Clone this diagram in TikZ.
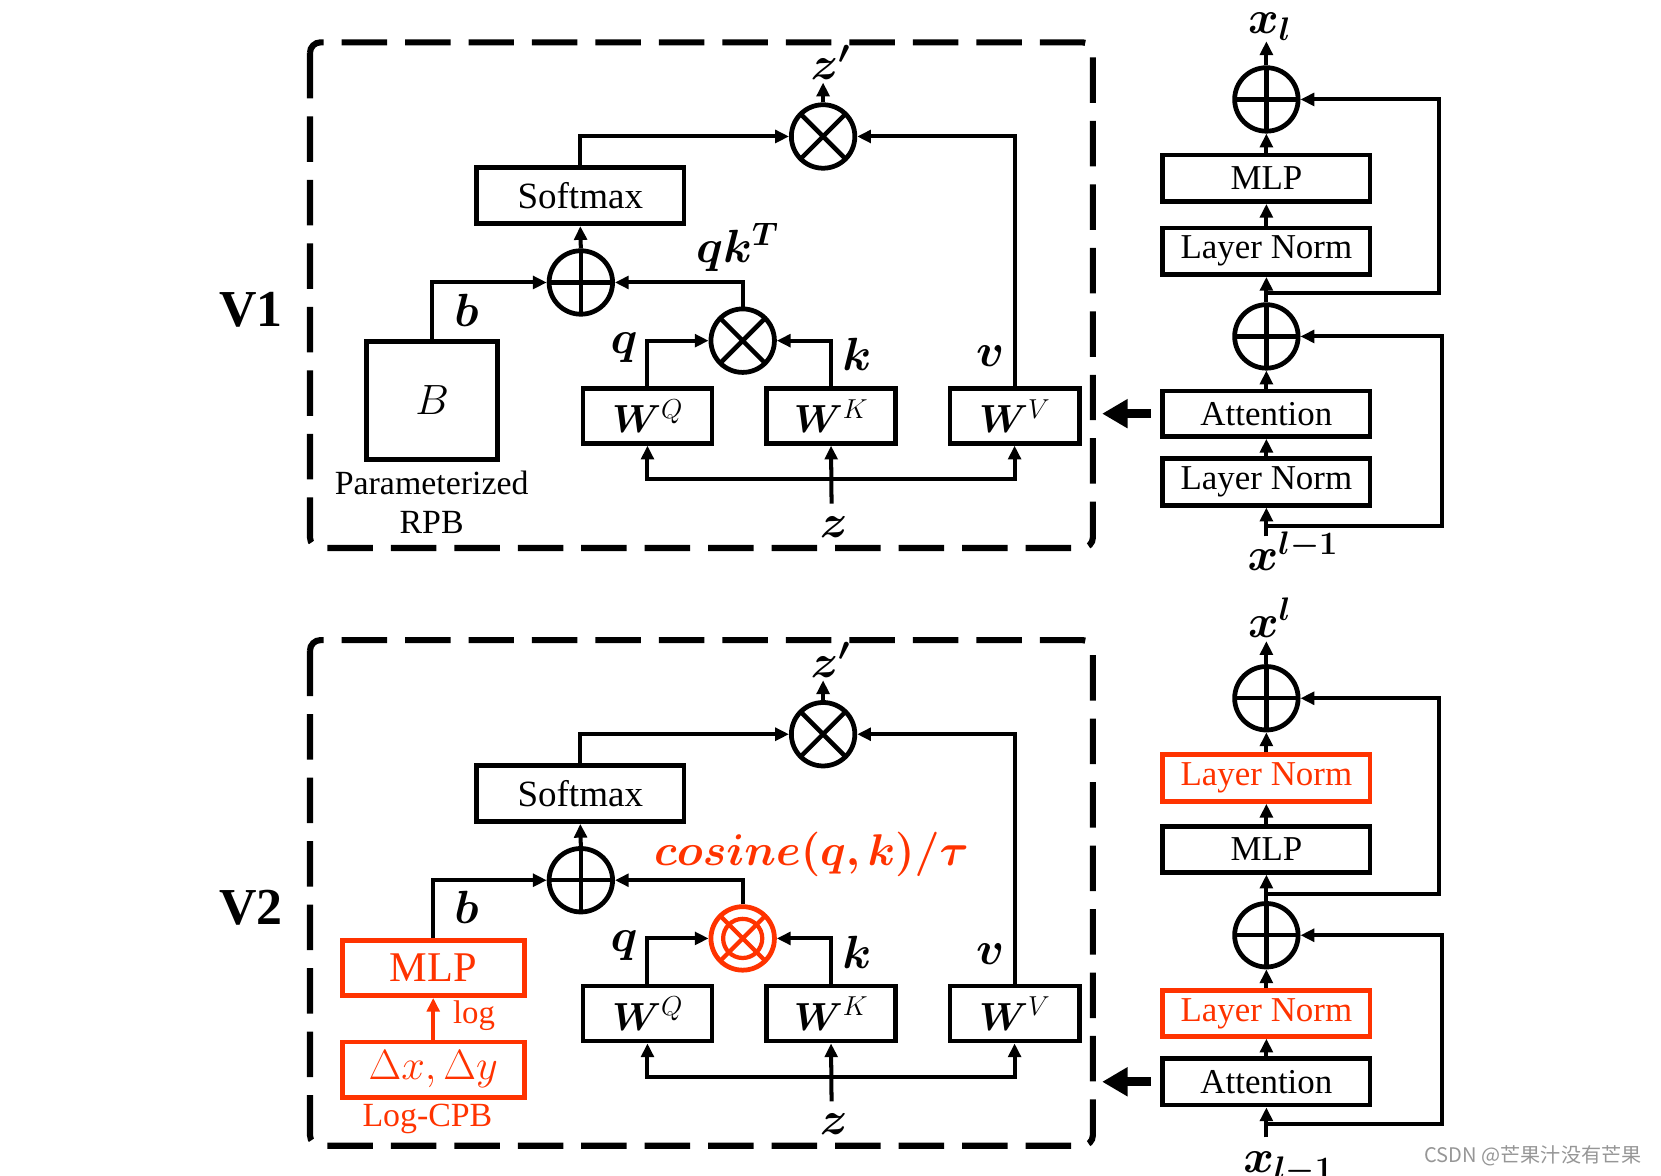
\RequirePackage{fix-cm}
\documentclass[tikz,border=0pt]{standalone}
\usepackage{amsmath,bm}
\usepackage{fontspec}
\setmainfont{Liberation Serif}
\newfontfamily\cjkfont{Noto Sans CJK SC}
\usetikzlibrary{arrows.meta,calc}
\definecolor{hl}{RGB}{255,51,0}
\definecolor{wm}{RGB}{150,150,150}

\newcommand{\attnpanel}[3]{%
\begin{scope}[yshift=#2]
\draw[dashbox] (293,40) rectangle (1033,518);
\node[box, minimum width=196pt, minimum height=53pt, font=\fontsize{35}{40}\selectfont] (soft#1) at (548.5,185) {Softmax};
\node[timesop] (mz#1) at (778,129) {};
\coordinate (zpt#1) at (778,78);
\node[lab] (zpl#1) at (785,59) {$\bm{z'}$};
\node[plusop] (add#1) at (549,267) {};
\node[#3] (mqk#1) at (702,322) {};
\node[wbox] (wq#1) at (612,393) {$\bm{W}^{Q}$};
\node[wbox] (wk#1) at (785.5,393) {$\bm{W}^{K}$};
\node[wbox] (wv#1) at (959,393) {$\bm{W}^{V}$};
\node[lab] (bl#1) at (441,293) {$\bm{b}$};
\node[lab] (ql#1) at (590,329) {$\bm{q}$};
\node[lab] (kl#1) at (810,335) {$\bm{k}$};
\node[lab] (vl#1) at (936,337) {$\bm{v}$};
\node[lab] (zl#1) at (788,498) {$\bm{z}$};
\coordinate (zin#1) at (786,476);
\coordinate (zs#1) at (786,453);
\draw[conn] (soft#1.north) |- (mz#1.west);
\draw[conn] (wv#1.north) |- (mz#1.east);
\draw[conn] (mz#1.north) -- (zpt#1);
\draw[conn] (add#1.north) -- (soft#1.south);
\draw[conn] (mqk#1.north) |- (add#1.east);
\draw[conn] (wq#1.north) |- (mqk#1.west);
\draw[conn] (wk#1.north) |- (mqk#1.east);
\draw[conn] (zin#1) -- (wk#1.south);
\draw[conn] (zs#1) -| (wq#1.south);
\draw[conn] (zs#1) -| (wv#1.south);
\end{scope}}

\begin{document}
\begin{tikzpicture}[x=1pt,y=-1pt,
 box/.style={draw, line width=4.5pt, inner sep=0pt, minimum width=196pt, font=\fontsize{33}{38}\selectfont},
 wbox/.style={draw, line width=4.5pt, inner sep=0pt, minimum width=122pt, minimum height=52pt, font=\fontsize{37}{42}\selectfont},
 redbox/.style={draw=hl, text=hl},
 opc/.style={circle, draw, line width=4.5pt, minimum size=60pt, inner sep=0pt},
 plusop/.style={opc, path picture={\draw[line width=4.2pt] (path picture bounding box.north) -- (path picture bounding box.south) (path picture bounding box.west) -- (path picture bounding box.east);}},
 timesop/.style={opc, path picture={\draw[line width=4.2pt] (path picture bounding box.north west) -- (path picture bounding box.south east) (path picture bounding box.south west) -- (path picture bounding box.north east);}},
 redtimes/.style={opc, draw=hl, path picture={\draw[hl, line width=4pt] (path picture bounding box.north west) -- (path picture bounding box.south east) (path picture bounding box.south west) -- (path picture bounding box.north east); \draw[hl, line width=4pt] (path picture bounding box.center) circle (18.5pt);}},
 conn/.style={line width=3.8pt, -{Triangle[length=13pt,width=12pt]}},
 redconn/.style={conn, draw=hl},
 lab/.style={font=\fontsize{44}{50}\selectfont, inner sep=0pt},
 txt/.style={font=\fontsize{32}{38}\selectfont, inner sep=0pt},
 bigarrow/.style={line width=8.5pt, -{Triangle[length=24pt,width=26pt]}},
 dashbox/.style={line width=5.8pt, dash pattern=on 43pt off 17pt, rounded corners=10pt},
 vlab/.style={font=\bfseries\fontsize{49}{54}\selectfont, inner sep=0pt}]
\useasboundingbox (0,0) rectangle (1570,1111);

\attnpanel{a}{0pt}{timesop}
\attnpanel{b}{-565pt}{redtimes}

% ---------- V1 specific ----------
\node[vlab] (v1) at (237,293) {V1};
\node[lab] (qkt) at (697,234) {$\bm{qk}^{\bm{T}}$};
\node[draw, line width=4.5pt, minimum width=124pt, minimum height=112pt, inner sep=0pt] (B) at (408.5,378.5) {\fontsize{40}{46}\selectfont$B$};
\node[txt] (pr) at (408,456) {Parameterized};
\node[txt] (rpb) at (408,494) {RPB};
\draw[conn] (B.north) |- (adda.west);

% right column V1
\node[plusop] (pta) at (1197,94) {};
\node[box, minimum height=44pt] (mlpa) at (1197,168.5) {MLP};
\node[box, minimum height=44pt] (lna) at (1197,237.5) {Layer Norm};
\node[plusop] (pba) at (1197,318) {};
\node[box, minimum height=43pt] (atta) at (1197,391) {Attention};
\node[box, minimum height=44pt] (lnb) at (1197,455.5) {Layer Norm};
\coordinate (outa) at (1197,39);
\node[lab] (xla) at (1200,25) {$\bm{x}_{\bm{l}}$};
\coordinate (ina) at (1197,507);
\node[lab] (xina) at (1222,521) {$\bm{x}^{\bm{l-1}}$};
\coordinate (ra1) at (1197,277);
\coordinate (ra2) at (1197,497);
\draw[conn] (pta.north) -- (outa);
\draw[conn] (mlpa.north) -- (pta.south);
\draw[conn] (lna.north) -- (mlpa.south);
\draw[conn] (pba.north) -- (lna.south);
\draw[conn] (atta.north) -- (pba.south);
\draw[conn] (lnb.north) -- (atta.south);
\draw[conn] (ina) -- (lnb.south);
\draw[conn] (ra1) -- ++(163,0) |- (pta.east);
\draw[conn] (ra2) -- ++(166,0) |- (pba.east);
\draw[bigarrow] ([xshift=-9pt]atta.west) -- ++(-46,0);

% ---------- V2 specific ----------
\node[vlab] (v2) at (237,858) {V2};
\node[lab, text=hl, font=\fontsize{42}{48}\selectfont] (cosl) at (767,808) {$\bm{cosine(q,k)/\tau}$};
\node[box, redbox, minimum width=172pt, minimum height=52pt, font=\fontsize{40}{44}\selectfont] (mlpc) at (409.5,915) {MLP};
\node[box, redbox, minimum width=172pt, minimum height=52pt, font=\fontsize{40}{46}\selectfont] (dxy) at (409.5,1011) {$\Delta x,\Delta y$};
\draw[redconn] (dxy.north) -- (mlpc.south);
\node[txt, text=hl, font=\fontsize{31}{36}\selectfont] (logl) at (448,960) {log};
\node[txt, text=hl] (lcpb) at (404,1058) {Log-CPB};
\draw[conn] (mlpc.north) |- (addb.west);

% right column V2
\node[plusop] (ptb) at (1197,660) {};
\node[box, redbox, minimum height=44pt] (lnc) at (1197,735.5) {Layer Norm};
\node[box, minimum height=43pt] (mlpb) at (1197,803) {MLP};
\node[plusop] (pbb) at (1197,884) {};
\node[box, redbox, minimum height=43pt] (lnd) at (1197,958) {Layer Norm};
\node[box, minimum height=44pt] (attb) at (1197,1022.5) {Attention};
\coordinate (outb) at (1197,606);
\node[lab] (xlb) at (1200,584) {$\bm{x}^{\bm{l}}$};
\coordinate (inb) at (1197,1075);
\node[lab] (xinb) at (1218,1104) {$\bm{x}_{\bm{l-1}}$};
\coordinate (rb1) at (1197,845);
\coordinate (rb2) at (1197,1062);
\draw[conn] (ptb.north) -- (outb);
\draw[conn] (lnc.north) -- (ptb.south);
\draw[conn] (mlpb.north) -- (lnc.south);
\draw[conn] (pbb.north) -- (mlpb.south);
\draw[conn] (lnd.north) -- (pbb.south);
\draw[conn] (attb.north) -- (lnd.south);
\draw[conn] (inb) -- (attb.south);
\draw[conn] (rb1) -- ++(163,0) |- (ptb.east);
\draw[conn] (rb2) -- ++(166,0) |- (pbb.east);
\draw[bigarrow] ([xshift=-9pt]attb.west) -- ++(-46,0);

\node[font=\cjkfont\fontsize{19}{22}\selectfont, text=wm, anchor=east] (wmk) at (1555,1092) {CSDN @芒果汁没有芒果};
\end{tikzpicture}
\end{document}
